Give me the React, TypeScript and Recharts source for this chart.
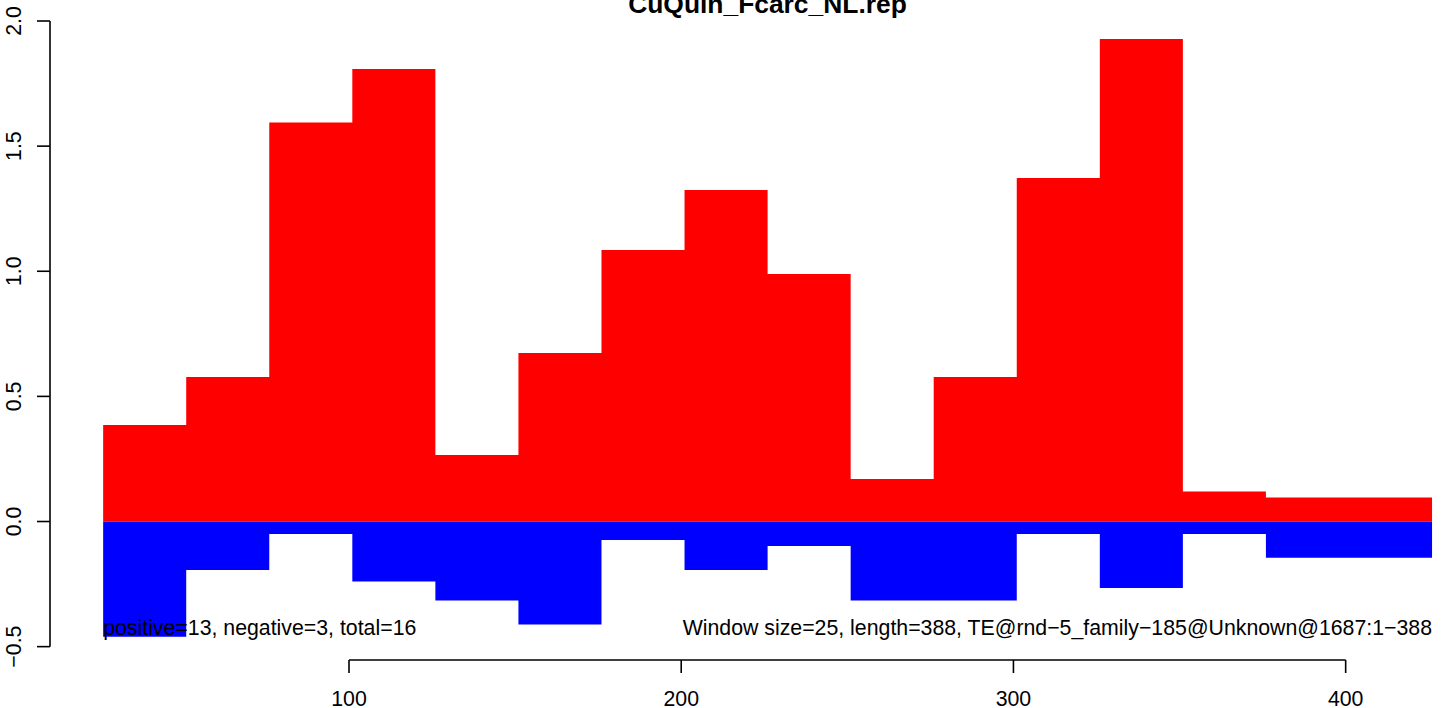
import React from "react";
import { ComposedChart, Area, XAxis, YAxis, ReferenceLine, ReferenceDot } from "recharts";

// Window start positions (window size 25), and the end of the last window
const windowStarts = [26, 51, 76, 101, 126, 151, 176, 201, 226, 251, 276, 301, 326, 351, 376, 401];
const windowEnd = 426;
const positiveValues = [0.386, 0.577, 1.594, 1.808, 0.266, 0.673, 1.085, 1.325, 0.989, 0.17, 0.577, 1.373, 1.928, 0.12, 0.096, 0.096];
const negativeValues = [-0.46, -0.194, -0.05, -0.24, -0.316, -0.412, -0.074, -0.194, -0.098, -0.316, -0.316, -0.05, -0.266, -0.05, -0.145, -0.145];
const xTicks = [100, 200, 300, 400];
const yTicks = [-0.5, 0, 0.5, 1, 1.5, 2];

const titleText = "CuQuin_Fcarc_NL.rep";
const leftNote = "positive=13, negative=3, total=16";
const rightNote = "Window size=25, length=388, TE@rnd\u22125_family\u2212185@Unknown@1687:1\u2212388";

const X_DOMAIN: [number, number] = [10, 429.6];
const Y_DOMAIN: [number, number] = [-0.5534, 2.024];

const data = [
  ...windowStarts.map((s, i) => ({ x: s, pos: positiveValues[i], neg: negativeValues[i] })),
  { x: windowEnd, pos: positiveValues[positiveValues.length - 1], neg: negativeValues[negativeValues.length - 1] },
];

const FONT = "'Liberation Sans', Arial, Helvetica, sans-serif";
const FS = 21.3;

const fmtY = (v: number) => (v < 0 ? "\u2212" + Math.abs(v).toFixed(1) : v.toFixed(1));

const XTick = (props: any) => {
  const { x, y, payload } = props;
  return (
    <text x={x} y={y + 32.5} textAnchor="middle" fontFamily={FONT} fontSize={FS} fill="#000">
      {String(payload.value)}
    </text>
  );
};

const YTick = (props: any) => {
  const { x, y, payload } = props;
  const bx = x - 16;
  return (
    <text x={bx} y={y} transform={`rotate(-90 ${bx} ${y})`} textAnchor="middle" fontFamily={FONT} fontSize={FS} fill="#000">
      {fmtY(payload.value)}
    </text>
  );
};

const noteLabel = (text: string, anchor: "start" | "end") => (props: any) => {
  const vb = props.viewBox || {};
  return (
    <text x={vb.x} y={(vb.y ?? 0) + 1} textAnchor={anchor} fontFamily={FONT} fontSize={FS} fill="#000">
      {text}
    </text>
  );
};

export default function App() {
  return (
    <div style={{ position: "absolute", left: 0, top: 0, width: 1444, height: 708, overflow: "hidden", background: "#fff" }}>
      <ComposedChart
        width={1444}
        height={708}
        data={data}
        margin={{ top: 15, right: 0, bottom: 0, left: 0 }}
      >
        <XAxis
          type="number"
          dataKey="x"
          domain={X_DOMAIN}
          allowDataOverflow
          ticks={xTicks}
          height={48}
          axisLine={false}
          tickLine={{ stroke: "#000", strokeWidth: 1.6 }}
          tickSize={13}
          tickMargin={0}
          tick={<XTick />}
          interval={0}
        />
        <YAxis
          type="number"
          domain={Y_DOMAIN}
          allowDataOverflow
          ticks={yTicks}
          width={50}
          axisLine={false}
          tickLine={{ stroke: "#000", strokeWidth: 1.6 }}
          tickSize={13}
          tickMargin={0}
          tick={<YTick />}
          interval={0}
        />
        <Area
          type="stepAfter"
          dataKey="pos"
          baseValue={0}
          fill="#FF0000"
          fillOpacity={1}
          stroke="none"
          dot={false}
          activeDot={false}
          isAnimationActive={false}
        />
        <Area
          type="stepAfter"
          dataKey="neg"
          baseValue={0}
          fill="#0000FF"
          fillOpacity={1}
          stroke="none"
          dot={false}
          activeDot={false}
          isAnimationActive={false}
        />
        <ReferenceLine
          segment={[{ x: X_DOMAIN[0], y: -0.5 }, { x: X_DOMAIN[0], y: 2 }]}
          stroke="#000"
          strokeWidth={1.6}
          ifOverflow="visible"
        />
        <ReferenceLine
          segment={[{ x: 100, y: Y_DOMAIN[0] }, { x: 400, y: Y_DOMAIN[0] }]}
          stroke="#000"
          strokeWidth={1.6}
          ifOverflow="visible"
        />
        <ReferenceDot
          x={windowStarts[0]}
          y={-0.45}
          r={0}
          fill="none"
          stroke="none"
          ifOverflow="visible"
          label={noteLabel(leftNote, "start")}
        />
        <ReferenceDot
          x={windowEnd}
          y={-0.45}
          r={0}
          fill="none"
          stroke="none"
          ifOverflow="visible"
          label={noteLabel(rightNote, "end")}
        />
      </ComposedChart>
      <svg width={1444} height={40} style={{ position: "absolute", left: 0, top: 0, pointerEvents: "none" }}>
        <text x={767.5} y={13} textAnchor="middle" fontFamily={FONT} fontWeight="bold" fontSize={26.4} fill="#000">
          {titleText}
        </text>
      </svg>
    </div>
  );
}
